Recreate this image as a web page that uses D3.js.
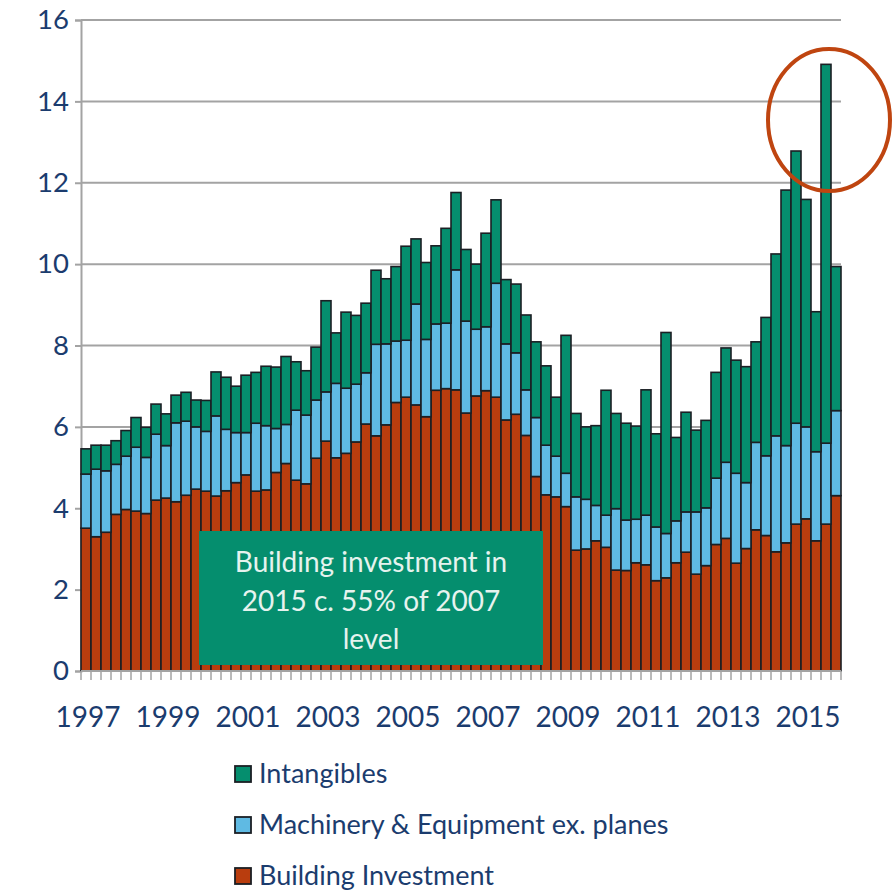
<!DOCTYPE html>
<html>
<head>
<meta charset="utf-8">
<script src="https://cdn.jsdelivr.net/npm/d3@7"></script>
<style>
  html, body { margin: 0; padding: 0; background: #ffffff; }
  svg { display: block; }
  text { font-family: Lato, "Open Sans", sans-serif; }
</style>
</head>
<body>
<svg id="chart" width="895" height="893"></svg>
<script>
// ---- Data (quarterly, 1997Q1 .. 2015Q4) ----
const years = d3.range(1997, 2016);
const quarters = ["Q1", "Q2", "Q3", "Q4"];
const categories = years.flatMap(yr => quarters.map(q => yr + q));

const building = [
  3.51, 3.30, 3.41, 3.85, 3.97, 3.93, 3.87, 4.20, 4.25, 4.16, 4.32, 4.47,
  4.42, 4.30, 4.43, 4.63, 4.82, 4.42, 4.45, 4.88, 5.10, 4.69, 4.60, 5.23,
  5.65, 5.24, 5.35, 5.63, 6.07, 5.78, 6.05, 6.60, 6.73, 6.54, 6.25, 6.90,
  6.94, 6.91, 6.34, 6.76, 6.89, 6.73, 6.17, 6.31, 5.79, 4.78, 4.33, 4.28,
  4.04, 2.97, 3.00, 3.20, 3.04, 2.48, 2.47, 2.66, 2.61, 2.22, 2.29, 2.66,
  2.92, 2.38, 2.59, 3.11, 3.26, 2.65, 3.01, 3.47, 3.33, 2.93, 3.15, 3.61,
  3.74, 3.20, 3.61, 4.31
];
const machinery = [
  1.33, 1.66, 1.51, 1.23, 1.31, 1.57, 1.38, 1.62, 1.29, 1.94, 1.82, 1.53,
  1.47, 1.97, 1.51, 1.23, 1.04, 1.67, 1.58, 1.08, 0.96, 1.72, 1.69, 1.43,
  1.21, 1.83, 1.60, 1.42, 1.26, 2.25, 1.99, 1.51, 1.40, 2.48, 1.90, 1.63,
  1.61, 2.95, 2.26, 1.64, 1.57, 2.80, 1.87, 1.51, 1.12, 1.45, 1.22, 1.00,
  0.82, 1.31, 1.22, 0.87, 0.79, 1.51, 1.24, 1.07, 1.22, 1.32, 1.09, 1.03,
  0.99, 1.53, 1.42, 1.63, 1.87, 2.21, 1.62, 2.15, 1.96, 2.85, 2.39, 2.48,
  2.26, 2.19, 1.99, 2.09
];
const intangibles = [
  0.62, 0.59, 0.63, 0.58, 0.63, 0.73, 0.74, 0.74, 0.78, 0.68, 0.71, 0.66,
  0.76, 1.08, 1.28, 1.14, 1.41, 1.25, 1.46, 1.51, 1.67, 1.19, 1.09, 1.30,
  2.24, 1.24, 1.87, 1.69, 1.71, 1.82, 1.60, 1.83, 2.31, 1.60, 1.89, 1.92,
  2.33, 1.90, 1.76, 1.60, 2.30, 2.05, 1.58, 1.69, 1.84, 1.86, 1.95, 1.45,
  3.39, 2.05, 1.78, 1.96, 3.07, 2.34, 2.38, 2.29, 3.08, 2.29, 4.94, 2.05,
  2.45, 2.01, 2.15, 2.60, 2.81, 2.78, 2.85, 2.47, 3.40, 4.47, 6.28, 6.69,
  5.59, 3.44, 9.31, 3.54
];

const seriesNames = ["Building Investment", "Machinery & Equipment ex. planes", "Intangibles"];
const seriesColors = ["#B93D0E", "#5FBAE3", "#058E6E"];
const yTicks = [0, 2, 4, 6, 8, 10, 12, 14, 16];
const xTickLabels = ["1997", "1999", "2001", "2003", "2005", "2007", "2009", "2011", "2013", "2015"];
const noteLines = ["Building investment in", "2015 c. 55% of 2007", "level"];

// ---- Table for the stack ----
const table = categories.map((c, i) => ({
  cat: c,
  "Building Investment": building[i],
  "Machinery & Equipment ex. planes": machinery[i],
  "Intangibles": intangibles[i]
}));
const stacked = d3.stack().keys(seriesNames)(table);

// ---- Layout ----
const svg = d3.select("#chart");
const plotL = 81, plotR = 841, plotT = 20, plotB = 671;
const x = d3.scaleBand().domain(categories).range([plotL, plotR]).padding(0);
const y = d3.scaleLinear().domain([0, 16]).range([plotB, plotT]);
const textColor = "#1B3C6E";
const gridColor = "#A3A3A3";

// Gridlines
svg.append("g").selectAll("line").data(yTicks.filter(t => t > 0)).join("line")
  .attr("x1", plotL).attr("x2", plotR)
  .attr("y1", d => y(d)).attr("y2", d => y(d))
  .attr("stroke", gridColor).attr("stroke-width", 2);

// Y axis
const yAxis = svg.append("g").attr("transform", `translate(${plotL},0)`)
  .call(d3.axisLeft(y).tickValues(yTicks).tickSize(6).tickPadding(6).tickFormat(d3.format("d")));
yAxis.select(".domain").attr("stroke", gridColor).attr("stroke-width", 2);
yAxis.selectAll(".tick line").attr("stroke", gridColor).attr("stroke-width", 2);
yAxis.selectAll(".tick text").attr("fill", textColor).attr("font-size", 27.5)
  .attr("font-family", "Lato, sans-serif");

// Bars
svg.append("g").selectAll("g").data(stacked).join("g")
  .attr("fill", (d, i) => seriesColors[i])
  .selectAll("rect").data(d => d).join("rect")
  .attr("x", d => x(d.data.cat))
  .attr("width", x.bandwidth())
  .attr("y", d => y(d[1]))
  .attr("height", d => y(d[0]) - y(d[1]))
  .attr("stroke", "#1B1F24").attr("stroke-width", 1.6);

// X axis line and category ticks
const boundaries = categories.map(c => x(c)).concat([plotR]);
svg.append("g").selectAll("line").data(boundaries).join("line")
  .attr("x1", d => d).attr("x2", d => d)
  .attr("y1", plotB).attr("y2", plotB + 9)
  .attr("stroke", gridColor).attr("stroke-width", 1.5);
svg.append("line").attr("x1", plotL).attr("x2", plotR).attr("y1", plotB).attr("y2", plotB)
  .attr("stroke", gridColor).attr("stroke-width", 2);

// X labels (first quarter of each labelled year)
svg.append("g").selectAll("text").data(xTickLabels).join("text")
  .attr("x", d => x(d + "Q1") + x.bandwidth() / 2 + 2)
  .attr("y", 727)
  .attr("text-anchor", "middle")
  .attr("fill", textColor).attr("font-size", 28)
  .text(d => d);

// Annotation box
svg.append("rect").attr("x", 199).attr("y", 531).attr("width", 344).attr("height", 134)
  .attr("fill", "#058E6E");
svg.append("g").selectAll("text").data(noteLines).join("text")
  .attr("x", 371).attr("y", (d, i) => 572 + i * 38.5)
  .attr("text-anchor", "middle").attr("fill", "#E6F3EE").attr("font-size", 28)
  .text(d => d);

// Highlight ellipse
svg.append("ellipse").attr("cx", 829).attr("cy", 120).attr("rx", 61).attr("ry", 71)
  .attr("fill", "none").attr("stroke", "#BF4510").attr("stroke-width", 4);

// Legend (Intangibles on top)
const legendOrder = [2, 1, 0];
const lg = svg.append("g").selectAll("g").data(legendOrder).join("g")
  .attr("transform", (d, i) => `translate(234,${766 + i * 51})`);
lg.append("rect").attr("x", 1).attr("y", 0).attr("width", 16).attr("height", 16)
  .attr("fill", d => seriesColors[d]).attr("stroke", "#1B1F24").attr("stroke-width", 1.8);
lg.append("text").attr("x", 25).attr("y", 17)
  .attr("fill", textColor).attr("font-size", 27)
  .text(d => seriesNames[d]);
</script>
</body>
</html>
